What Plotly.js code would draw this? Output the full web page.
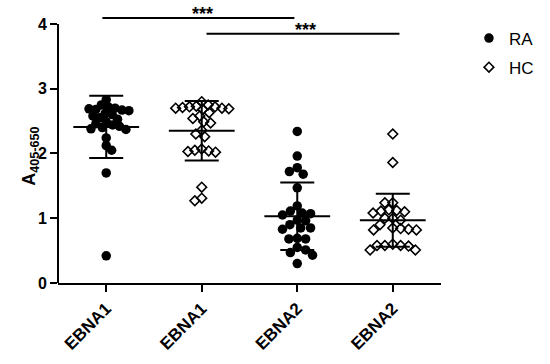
<!DOCTYPE html>
<html>
<head>
<meta charset="utf-8">
<script src="https://cdn.plot.ly/plotly-3.0.1.min.js"></script>
<style>
  html, body { margin: 0; padding: 0; background: #fff; }
  #chart { width: 550px; height: 364px; }
</style>
</head>
<body>
<div id="chart"></div>
<script>
// group labels on the x axis
const groupLabels = ['EBNA1', 'EBNA1', 'EBNA2', 'EBNA2'];

// individual values
const raEbna1 = [2.83, 2.75, 2.72, 2.70, 2.68, 2.67, 2.69, 2.66, 2.62, 2.60, 2.58, 2.55, 2.53,
                 2.49, 2.46, 2.44, 2.42, 2.40, 2.38, 2.37, 2.24, 2.12, 2.05, 1.70, 0.42];
const hcEbna1 = [2.80, 2.75, 2.73, 2.72, 2.72, 2.71, 2.70, 2.70, 2.69, 2.68, 2.63, 2.58, 2.54,
                 2.49, 2.47, 2.36, 2.30, 2.26, 2.07, 2.05, 2.04, 2.03, 2.02, 1.48, 1.31, 1.27];
const raEbna2 = [2.34, 1.96, 1.78, 1.72, 1.68, 1.47, 1.19, 1.11, 1.08, 1.07, 1.05, 0.97, 0.96,
                 0.90, 0.85, 0.85, 0.83, 0.69, 0.68, 0.68, 0.55, 0.51, 0.47, 0.43, 0.30];
const hcEbna2 = [2.30, 1.86, 1.24, 1.24, 1.13, 1.12, 1.11, 1.10, 1.08, 1.00, 1.00, 0.97, 0.90,
                 0.85, 0.84, 0.83, 0.82, 0.82, 0.60, 0.58, 0.58, 0.58, 0.57, 0.51, 0.51];

// mean and SD bars as drawn
const groupMeans = [2.41, 2.35, 1.03, 0.97];
const groupSD = [0.48, 0.46, 0.52, 0.41];

const FONT = 'Arial, "Liberation Sans", sans-serif';
const XPX = 97;     // px per category
const YPX = 64.75;  // px per unit of absorbance

// simple beeswarm: push each point sideways until it no longer overlaps
function swarm(vals, diam) {
    const placed = [];
    return vals.map(v => {
        const py = v * YPX;
        let pick = 0;
        for (let k = 0; k < 400; k++) {
            const step = k * 0.5;
            const cands = k === 0 ? [0] : (k % 2 ? [step, -step] : [-step, step]);
            const ok = cands.find(c => placed.every(p => (p.x - c) ** 2 + (p.y - py) ** 2 >= diam * diam));
            if (ok !== undefined) { pick = ok; break; }
        }
        placed.push({ x: pick, y: py });
        return pick / XPX;
    });
}

function groupX(vals, idx, diam) {
    return swarm(vals, diam).map(o => idx + o);
}

const raTrace = {
    x: groupX(raEbna1, 0, 7).concat(groupX(raEbna2, 2, 8.5)),
    y: raEbna1.concat(raEbna2),
    type: 'scatter',
    mode: 'markers',
    name: 'RA',
    legendgroup: 'ra',
    marker: { symbol: 'circle', size: 9.5, color: '#000' },
    cliponaxis: false
};

const hcTrace = {
    x: groupX(hcEbna1, 1, 7).concat(groupX(hcEbna2, 3, 8)),
    y: hcEbna1.concat(hcEbna2),
    type: 'scatter',
    mode: 'markers',
    name: 'HC',
    legendgroup: 'hc',
    marker: { symbol: 'diamond-open', size: 7.5, color: '#000', line: { width: 1.6, color: '#000' } },
    cliponaxis: false
};

const barTrace = {
    x: [0, 1, 2, 3],
    y: groupMeans,
    type: 'scatter',
    mode: 'markers',
    showlegend: false,
    hoverinfo: 'skip',
    marker: { symbol: 'line-ew', size: 47, color: '#000', line: { width: 2, color: '#000' } },
    error_y: { type: 'data', array: groupSD, visible: true, color: '#000', thickness: 2, width: 17 }
};

const layout = {
    width: 550,
    height: 364,
    margin: { l: 58, r: 103, t: 11, b: 81 },
    paper_bgcolor: '#fff',
    plot_bgcolor: '#fff',
    font: { family: FONT, color: '#000' },
    showlegend: true,
    legend: {
        x: 1.073, y: 0.965, xanchor: 'left', yanchor: 'top',
        traceorder: 'grouped',
        tracegroupgap: 4,
        font: { family: FONT, size: 17, color: '#000' }
    },
    xaxis: {
        range: [-0.505, 3.505],
        tickvals: [0, 1, 2, 3],
        ticktext: groupLabels,
        tickangle: -45,
        tickfont: { family: FONT, size: 17, weight: 'bold', color: '#000' },
        showline: true, linewidth: 2, linecolor: '#000',
        ticks: 'outside', ticklen: 7, tickwidth: 2, tickcolor: '#000',
        showgrid: false, zeroline: false
    },
    yaxis: {
        range: [0, 4.2],
        tickvals: [0, 1, 2, 3, 4],
        tickfont: { family: FONT, size: 16, weight: 'bold', color: '#000' },
        showline: false,
        ticks: 'outside', ticklen: 7, tickwidth: 2, tickcolor: '#000',
        showgrid: false, zeroline: false
    },
    shapes: [
        // y axis line only up to 4
        { type: 'line', xref: 'paper', yref: 'y', x0: 0, x1: 0, y0: 0, y1: 4, line: { color: '#000', width: 2 } },
        // significance brackets
        { type: 'line', xref: 'x', yref: 'y', x0: -0.04, x1: 1.97, y0: 4.09, y1: 4.09, line: { color: '#000', width: 2 } },
        { type: 'line', xref: 'x', yref: 'y', x0: 1.05, x1: 3.07, y0: 3.85, y1: 3.85, line: { color: '#000', width: 2 } }
    ],
    annotations: [
        // y axis title
        { x: 0, y: 1.95, xref: 'paper', yref: 'y', xanchor: 'center', yanchor: 'middle', xshift: -27,
          text: 'A<sub>405-650</sub>', textangle: -90, showarrow: false,
          font: { family: FONT, size: 18, weight: 'bold', color: '#000' } },
        { x: 1.01, y: 4.09, xref: 'x', yref: 'y', text: '***', showarrow: false, yanchor: 'bottom', yshift: -8,
          font: { family: FONT, size: 18, weight: 'bold', color: '#000' } },
        { x: 2.09, y: 3.85, xref: 'x', yref: 'y', text: '***', showarrow: false, yanchor: 'bottom', yshift: -8,
          font: { family: FONT, size: 18, weight: 'bold', color: '#000' } }
    ]
};

Plotly.newPlot('chart', [raTrace, hcTrace, barTrace], layout, { displayModeBar: false, staticPlot: true });
</script>
</body>
</html>
